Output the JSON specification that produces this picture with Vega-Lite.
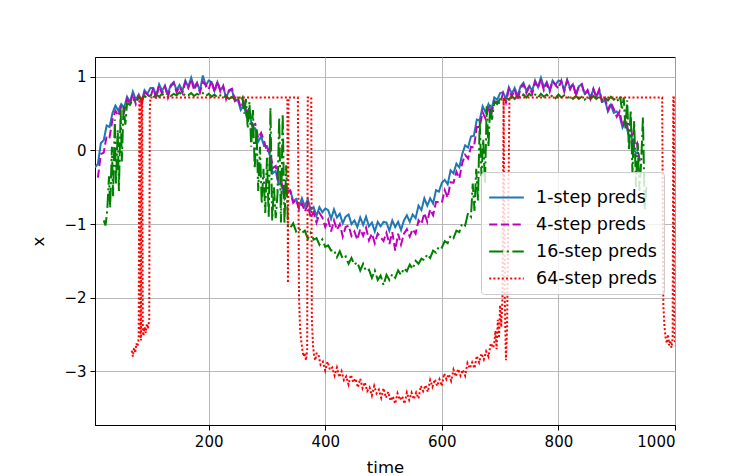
{
 "$schema": "https://vega.github.io/schema/vega-lite/v6.json",
 "width": 580, "height": 368,
 "autosize": {"type": "none"},
 "padding": {"left": 95, "top": 57, "right": 75, "bottom": 51},
 "background": "white",
 "config": {
  "font": "DejaVu Sans",
  "view": {"stroke": "black", "strokeWidth": 1},
  "axis": {"domainColor": "black", "domainWidth": 1, "tickColor": "black", "tickSize": 5, "tickWidth": 1,
   "labelFontSize": 15, "labelColor": "black", "labelFont": "DejaVu Sans",
   "titleFontSize": 16.5, "titleFontWeight": "normal", "titleColor": "black", "titleFont": "DejaVu Sans",
   "gridColor": "#b0b0b0", "gridWidth": 0.9, "grid": true}
 },
 "data": {"values": [
  {"t":5,"a":-0.23},
  {"t":10,"a":-0.18,"b":-0.37},{"t":15,"a":0.10,"b":-0.05},{"t":20,"a":0.14,"b":-0.03},{"t":25,"a":0.34,"b":0.20},
  {"t":30,"a":0.32,"b":0.18},{"t":35,"a":0.51,"b":0.42},{"t":40,"a":0.61,"b":0.54},{"t":45,"a":0.54,"b":0.47},
  {"t":50,"a":0.63,"b":0.59},{"t":55,"a":0.58,"b":0.52},{"t":60,"a":0.73,"b":0.70},{"t":65,"a":0.66,"b":0.63},
  {"t":70,"a":0.80,"b":0.77},{"t":75,"a":0.69,"b":0.63},{"t":80,"a":0.76,"b":0.74},{"t":85,"a":0.67,"b":0.63},
  {"t":90,"a":0.82,"b":0.79},{"t":95,"a":0.77,"b":0.76},{"t":100,"a":0.85,"b":0.72},{"t":105,"a":0.85,"b":0.85},
  {"t":110,"a":0.75,"b":0.71},{"t":115,"a":0.90,"b":0.88},{"t":120,"a":0.81,"b":0.77},{"t":125,"a":0.88,"b":0.87},
  {"t":130,"a":0.77,"b":0.72},{"t":135,"a":0.89,"b":0.87},{"t":140,"a":0.93,"b":0.92},{"t":145,"a":0.82,"b":0.79},
  {"t":150,"a":0.89,"b":0.87},{"t":155,"a":0.81,"b":0.78},{"t":160,"a":0.95,"b":0.93},{"t":165,"a":0.86,"b":0.85},
  {"t":170,"a":0.99,"b":0.97},{"t":175,"a":0.86,"b":0.82},{"t":180,"a":0.92,"b":0.91},{"t":185,"a":0.81,"b":0.79},
  {"t":190,"a":1.02,"b":0.93},{"t":195,"a":0.88,"b":0.89},{"t":200,"a":0.95,"b":0.83},{"t":205,"a":0.93,"b":0.95},
  {"t":210,"a":0.81,"b":0.79},{"t":215,"a":0.93,"b":0.94},{"t":220,"a":0.82,"b":0.80},{"t":225,"a":0.86,"b":0.88},
  {"t":230,"a":0.72,"b":0.70},{"t":235,"a":0.81,"b":0.82},{"t":240,"a":0.82,"b":0.84},{"t":245,"a":0.67,"b":0.68},
  {"t":250,"a":0.69,"b":0.72},{"t":255,"a":0.55,"b":0.58},{"t":260,"a":0.62,"b":0.67},{"t":265,"a":0.46,"b":0.52},
  {"t":270,"a":0.51,"b":0.57},{"t":275,"a":0.31,"b":0.34},{"t":280,"a":0.30,"b":0.36},{"t":285,"a":0.12,"b":0.17},
  {"t":290,"a":0.19,"b":0.24},{"t":295,"a":0.06,"b":0.13},{"t":300,"a":0.06,"b":-0.02},{"t":305,"a":-0.07,"b":0.03},
  {"t":310,"a":-0.31,"b":-0.24},{"t":315,"a":-0.28,"b":-0.21},{"t":320,"a":-0.46,"b":-0.44},{"t":325,"a":-0.46,"b":-0.43},
  {"t":330,"a":-0.63,"b":-0.65},{"t":335,"a":-0.55,"b":-0.56},{"t":340,"a":-0.54,"b":-0.55},{"t":345,"a":-0.69,"b":-0.71},
  {"t":350,"a":-0.66,"b":-0.67},{"t":355,"a":-0.76,"b":-0.80},{"t":360,"a":-0.65,"b":-0.72},{"t":365,"a":-0.76,"b":-0.83},
  {"t":370,"a":-0.66,"b":-0.73},{"t":375,"a":-0.81,"b":-0.91},{"t":380,"a":-0.77,"b":-0.84},{"t":385,"a":-0.89,"b":-0.98},
  {"t":390,"a":-0.77,"b":-0.85},{"t":395,"a":-0.84,"b":-0.91},{"t":400,"a":-0.79,"b":-1.04},{"t":405,"a":-0.81,"b":-0.94},
  {"t":410,"a":-0.93,"b":-1.10},{"t":415,"a":-0.80,"b":-0.95},{"t":420,"a":-0.91,"b":-1.08},{"t":425,"a":-0.86,"b":-1.00},
  {"t":430,"a":-0.99,"b":-1.17},{"t":435,"a":-0.90,"b":-1.04},{"t":440,"a":-0.87,"b":-1.02},{"t":445,"a":-1.00,"b":-1.16},
  {"t":450,"a":-0.95,"b":-1.10},{"t":455,"a":-1.04,"b":-1.21},{"t":460,"a":-0.91,"b":-1.07},{"t":465,"a":-1.01,"b":-1.16},
  {"t":470,"a":-0.90,"b":-1.05},{"t":475,"a":-1.03,"b":-1.22},{"t":480,"a":-0.98,"b":-1.13},{"t":485,"a":-1.10,"b":-1.26},
  {"t":490,"a":-0.97,"b":-1.13},{"t":495,"a":-1.03,"b":-1.18},{"t":500,"a":-0.97,"b":-1.23},{"t":505,"a":-0.98,"b":-1.12},
  {"t":510,"a":-1.09,"b":-1.27},{"t":515,"a":-0.95,"b":-1.11},{"t":520,"a":-1.04,"b":-1.36},{"t":525,"a":-0.97,"b":-1.13},
  {"t":530,"a":-1.08,"b":-1.28},{"t":535,"a":-0.95,"b":-1.13},{"t":540,"a":-0.88,"b":-1.07},{"t":545,"a":-0.97,"b":-1.17},
  {"t":550,"a":-0.87,"b":-1.07},{"t":555,"a":-0.92,"b":-1.13},{"t":560,"a":-0.75,"b":-0.95},{"t":565,"a":-0.81,"b":-1.00},
  {"t":570,"a":-0.65,"b":-0.85},{"t":575,"a":-0.75,"b":-0.97},{"t":580,"a":-0.65,"b":-0.80},{"t":585,"a":-0.72,"b":-0.88},
  {"t":590,"a":-0.54,"b":-0.70},{"t":595,"a":-0.56,"b":-0.70},{"t":600,"a":-0.44,"b":-0.71},{"t":605,"a":-0.40,"b":-0.54},
  {"t":610,"a":-0.46,"b":-0.64},{"t":615,"a":-0.27,"b":-0.43},{"t":620,"a":-0.31,"b":-0.44},{"t":625,"a":-0.18,"b":-0.29},
  {"t":630,"a":-0.23,"b":-0.38},{"t":635,"a":-0.05,"b":-0.17},{"t":640,"a":0.07,"b":-0.06},{"t":645,"a":0.04,"b":-0.11},
  {"t":650,"a":0.19,"b":0.05},{"t":655,"a":0.20,"b":0.04},{"t":660,"a":0.42,"b":0.32},{"t":665,"a":0.41,"b":0.32},
  {"t":670,"a":0.60,"b":0.52},{"t":675,"a":0.52,"b":0.43},{"t":680,"a":0.63,"b":0.57},{"t":685,"a":0.55,"b":0.50},
  {"t":690,"a":0.72,"b":0.67},{"t":695,"a":0.69,"b":0.66},{"t":700,"a":0.78,"b":0.64},{"t":705,"a":0.79,"b":0.78},
  {"t":710,"a":0.70,"b":0.65},{"t":715,"a":0.86,"b":0.83},{"t":720,"a":0.77,"b":0.73},{"t":725,"a":0.85,"b":0.83},
  {"t":730,"a":0.74,"b":0.69},{"t":735,"a":0.87,"b":0.84},{"t":740,"a":0.92,"b":0.90},{"t":745,"a":0.81,"b":0.78},
  {"t":750,"a":0.88,"b":0.86},{"t":755,"a":0.81,"b":0.77},{"t":760,"a":0.95,"b":0.93},{"t":765,"a":0.86,"b":0.85},
  {"t":770,"a":0.99,"b":0.97},{"t":775,"a":0.86,"b":0.82},{"t":780,"a":0.93,"b":0.91},{"t":785,"a":0.82,"b":0.80},
  {"t":790,"a":0.95,"b":0.94},{"t":795,"a":0.89,"b":0.89},{"t":800,"a":0.95,"b":0.84},{"t":805,"a":0.94,"b":0.95},
  {"t":810,"a":0.82,"b":0.80},{"t":815,"a":0.96,"b":0.95},{"t":820,"a":0.85,"b":0.83},{"t":825,"a":0.90,"b":0.91},
  {"t":830,"a":0.77,"b":0.74},{"t":835,"a":0.87,"b":0.87},{"t":840,"a":0.90,"b":0.90},{"t":845,"a":0.77,"b":0.76},
  {"t":850,"a":0.81,"b":0.82},{"t":855,"a":0.72,"b":0.70},{"t":860,"a":0.83,"b":0.84},{"t":865,"a":0.72,"b":0.73},
  {"t":870,"a":0.82,"b":0.83},{"t":875,"a":0.66,"b":0.65},{"t":880,"a":0.68,"b":0.71},{"t":885,"a":0.53,"b":0.55},
  {"t":890,"a":0.62,"b":0.65},{"t":895,"a":0.51,"b":0.56},{"t":900,"a":0.53,"b":0.46},{"t":905,"a":0.47,"b":0.53},
  {"t":910,"a":0.31,"b":0.33},{"t":915,"a":0.39,"b":0.44},{"t":920,"a":0.22,"b":0.26},{"t":925,"a":0.20,"b":0.28},
  {"t":930,"a":0.00,"b":0.04},{"t":935,"a":-0.05,"b":0.10},{"t":940,"b":-0.18},

  {"t":20,"c":-0.95},{"t":23,"c":-1.02},{"t":26,"c":-0.82},{"t":29,"c":-0.35},{"t":31,"c":-0.78},{"t":34,"c":0.05},
  {"t":36,"c":-0.62},{"t":39,"c":0.42},{"t":41,"c":-0.45},{"t":44,"c":0.28},{"t":46,"c":-0.55},{"t":49,"c":0.55},
  {"t":51,"c":-0.15},{"t":54,"c":0.6},{"t":57,"c":0.35},{"t":60,"c":0.64},{"t":65,"c":0.62},{"t":70,"c":0.7},
  {"t":75,"c":0.66},{"t":80,"c":0.72},{"t":85,"c":0.69},{"t":90,"c":0.74},{"t":95,"c":0.71},{"t":100,"c":0.75},
  {"t":105,"c":0.72},{"t":110,"c":0.76},{"t":115,"c":0.73},{"t":120,"c":0.77},{"t":125,"c":0.74},{"t":130,"c":0.78},
  {"t":135,"c":0.74},{"t":140,"c":0.77},{"t":145,"c":0.75},{"t":150,"c":0.79},{"t":155,"c":0.74},{"t":160,"c":0.77},
  {"t":165,"c":0.75},{"t":170,"c":0.78},{"t":175,"c":0.74},{"t":180,"c":0.77},{"t":185,"c":0.75},{"t":190,"c":0.78},
  {"t":195,"c":0.74},{"t":200,"c":0.77},{"t":205,"c":0.73},{"t":210,"c":0.76},{"t":215,"c":0.72},{"t":220,"c":0.75},
  {"t":225,"c":0.72},{"t":230,"c":0.74},{"t":235,"c":0.7},{"t":240,"c":0.73},{"t":245,"c":0.69},{"t":250,"c":0.72},
  {"t":255,"c":0.68},{"t":258,"c":0.72},{"t":261,"c":0.5},{"t":264,"c":0.7},{"t":267,"c":0.3},{"t":270,"c":0.66},
  {"t":273,"c":0.05},{"t":276,"c":0.55},{"t":279,"c":-0.25},{"t":282,"c":0.3},{"t":285,"c":-0.55},{"t":288,"c":0.05},
  {"t":291,"c":-0.72},{"t":294,"c":-0.25},{"t":297,"c":-0.85},{"t":300,"c":-0.1},{"t":303,"c":-0.9},{"t":306,"c":0.58},
  {"t":309,"c":-0.95},{"t":312,"c":-0.5},{"t":315,"c":-0.92},{"t":318,"c":-0.6},{"t":321,"c":0.45},{"t":324,"c":-0.98},
  {"t":327,"c":0.5},{"t":330,"c":-1.0},{"t":333,"c":-0.2},{"t":336,"c":-1.02},{"t":340,"c":-1.05},{"t":345,"c":-0.99},
  {"t":350,"c":-1.1},{"t":355,"c":-1.06},{"t":360,"c":-1.12},{"t":365,"c":-1.09},{"t":370,"c":-1.2},{"t":375,"c":-1.12},
  {"t":380,"c":-1.21},{"t":385,"c":-1.19},{"t":390,"c":-1.28},{"t":395,"c":-1.21},{"t":400,"c":-1.31},{"t":405,"c":-1.29},
  {"t":410,"c":-1.36},{"t":415,"c":-1.35},{"t":420,"c":-1.45},{"t":425,"c":-1.37},{"t":430,"c":-1.47},{"t":435,"c":-1.44},
  {"t":440,"c":-1.54},{"t":445,"c":-1.46},{"t":450,"c":-1.55},{"t":455,"c":-1.52},{"t":460,"c":-1.63},{"t":465,"c":-1.54},
  {"t":470,"c":-1.64},{"t":475,"c":-1.62},{"t":480,"c":-1.73},{"t":485,"c":-1.63},{"t":490,"c":-1.76},{"t":495,"c":-1.7},
  {"t":500,"c":-1.83},{"t":505,"c":-1.69},{"t":510,"c":-1.76},{"t":515,"c":-1.68},{"t":520,"c":-1.73},{"t":525,"c":-1.63},
  {"t":530,"c":-1.69},{"t":535,"c":-1.6},{"t":540,"c":-1.64},{"t":545,"c":-1.55},{"t":550,"c":-1.61},{"t":555,"c":-1.5},
  {"t":560,"c":-1.54},{"t":565,"c":-1.47},{"t":570,"c":-1.49},{"t":575,"c":-1.41},{"t":580,"c":-1.46},{"t":585,"c":-1.36},
  {"t":590,"c":-1.39},{"t":595,"c":-1.3},{"t":600,"c":-1.32},{"t":605,"c":-1.23},{"t":610,"c":-1.26},{"t":615,"c":-1.16},
  {"t":620,"c":-1.19},{"t":625,"c":-1.09},{"t":630,"c":-1.11},{"t":635,"c":-0.99},{"t":640,"c":-1.02},{"t":645,"c":-0.85},
  {"t":650,"c":-0.9},{"t":653,"c":-0.45},{"t":656,"c":-0.82},{"t":659,"c":-0.25},{"t":662,"c":-0.68},{"t":665,"c":0.4},
  {"t":668,"c":-0.35},{"t":671,"c":0.15},{"t":674,"c":-0.45},{"t":677,"c":0.6},{"t":680,"c":0.05},{"t":683,"c":0.62},
  {"t":686,"c":0.42},{"t":690,"c":0.66},{"t":695,"c":0.63},{"t":700,"c":0.7},{"t":705,"c":0.67},{"t":710,"c":0.72},
  {"t":715,"c":0.69},{"t":720,"c":0.74},{"t":725,"c":0.7},{"t":730,"c":0.75},{"t":735,"c":0.71},{"t":740,"c":0.76},
  {"t":745,"c":0.72},{"t":750,"c":0.77},{"t":755,"c":0.73},{"t":760,"c":0.76},{"t":765,"c":0.72},{"t":770,"c":0.77},
  {"t":775,"c":0.73},{"t":780,"c":0.76},{"t":785,"c":0.72},{"t":790,"c":0.75},{"t":795,"c":0.71},{"t":800,"c":0.76},
  {"t":805,"c":0.72},{"t":810,"c":0.75},{"t":815,"c":0.71},{"t":820,"c":0.74},{"t":825,"c":0.7},{"t":830,"c":0.74},
  {"t":835,"c":0.7},{"t":840,"c":0.73},{"t":845,"c":0.69},{"t":850,"c":0.73},{"t":855,"c":0.7},{"t":860,"c":0.74},
  {"t":865,"c":0.7},{"t":870,"c":0.73},{"t":875,"c":0.69},{"t":880,"c":0.72},{"t":885,"c":0.68},{"t":890,"c":0.73},
  {"t":895,"c":0.69},{"t":900,"c":0.72},{"t":903,"c":0.66},{"t":906,"c":0.73},{"t":909,"c":0.55},{"t":912,"c":0.72},
  {"t":915,"c":0.3},{"t":918,"c":0.68},{"t":921,"c":0.0},{"t":924,"c":0.55},{"t":927,"c":-0.3},{"t":930,"c":0.4},
  {"t":933,"c":-0.5},{"t":936,"c":0.1},{"t":939,"c":-0.55},{"t":942,"c":-0.15},{"t":945,"c":0.45},{"t":948,"c":-0.8},
  {"t":951,"c":-0.5},

  {"t":68,"d":-2.72},{"t":70,"d":-2.8},{"t":72,"d":-2.68},{"t":74,"d":-2.75},{"t":76,"d":-2.62},{"t":78,"d":-2.66},
  {"t":80,"d":-2.55},{"t":81,"d":0.72},{"t":82,"d":0.72},{"t":83,"d":-2.5},{"t":84,"d":-2.58},{"t":85,"d":0.72},
  {"t":86,"d":0.72},{"t":87,"d":-2.45},{"t":88,"d":-2.52},{"t":90,"d":-2.4},{"t":92,"d":-2.48},{"t":94,"d":-2.35},
  {"t":96,"d":-2.42},{"t":98,"d":-2.3},{"t":99,"d":0.55},{"t":100,"d":0.72},{"t":200,"d":0.72},{"t":335,"d":0.72},
  {"t":336,"d":-1.8},{"t":337,"d":0.72},{"t":353,"d":0.72},{"t":355,"d":-2.0},{"t":357,"d":-2.45},{"t":359,"d":-2.6},
  {"t":361,"d":-2.72},{"t":363,"d":-2.8},{"t":365,"d":-2.75},{"t":367,"d":-2.85},{"t":369,"d":-2.7},{"t":370,"d":0.72},
  {"t":376,"d":0.72},{"t":377,"d":-2.3},{"t":379,"d":-2.65},{"t":381,"d":-2.8},{"t":383,"d":-2.85},{"t":385,"d":-2.76},
  {"t":388,"d":-2.76},{"t":392,"d":-2.91},{"t":396,"d":-2.87},{"t":400,"d":-2.99},{"t":404,"d":-2.87},{"t":408,"d":-2.98},
  {"t":412,"d":-2.95},{"t":416,"d":-3.06},{"t":420,"d":-2.95},{"t":424,"d":-3.08},{"t":428,"d":-3.0},{"t":432,"d":-3.12},
  {"t":436,"d":-3.07},{"t":440,"d":-3.18},{"t":444,"d":-3.05},{"t":448,"d":-3.15},{"t":452,"d":-3.1},{"t":456,"d":-3.22},
  {"t":460,"d":-3.1},{"t":464,"d":-3.23},{"t":468,"d":-3.15},{"t":472,"d":-3.27},{"t":476,"d":-3.22},{"t":480,"d":-3.33},
  {"t":484,"d":-3.2},{"t":488,"d":-3.3},{"t":492,"d":-3.25},{"t":496,"d":-3.36},{"t":500,"d":-3.23},{"t":504,"d":-3.36},
  {"t":508,"d":-3.28},{"t":512,"d":-3.4},{"t":516,"d":-3.34},{"t":520,"d":-3.44},{"t":524,"d":-3.3},{"t":528,"d":-3.39},
  {"t":532,"d":-3.34},{"t":536,"d":-3.44},{"t":540,"d":-3.29},{"t":544,"d":-3.39},{"t":548,"d":-3.29},{"t":552,"d":-3.38},
  {"t":556,"d":-3.29},{"t":560,"d":-3.37},{"t":564,"d":-3.2},{"t":568,"d":-3.27},{"t":572,"d":-3.19},{"t":576,"d":-3.28},
  {"t":580,"d":-3.12},{"t":584,"d":-3.21},{"t":588,"d":-3.11},{"t":592,"d":-3.2},{"t":596,"d":-3.11},{"t":600,"d":-3.2},
  {"t":604,"d":-3.03},{"t":608,"d":-3.11},{"t":612,"d":-3.04},{"t":616,"d":-3.13},{"t":620,"d":-2.98},{"t":624,"d":-3.07},
  {"t":628,"d":-2.97},{"t":632,"d":-3.06},{"t":636,"d":-2.98},{"t":640,"d":-3.06},{"t":644,"d":-2.89},{"t":648,"d":-2.96},
  {"t":652,"d":-2.88},{"t":656,"d":-2.96},{"t":660,"d":-2.79},{"t":664,"d":-2.88},{"t":668,"d":-2.76},{"t":672,"d":-2.84},
  {"t":676,"d":-2.73},{"t":680,"d":-2.8},{"t":684,"d":-2.62},{"t":688,"d":-2.68},{"t":690,"d":-2.62},{"t":692,"d":-2.45},
  {"t":694,"d":-2.7},{"t":696,"d":-2.3},{"t":698,"d":-2.55},{"t":700,"d":-2.1},{"t":702,"d":-2.4},{"t":704,"d":-2.0},
  {"t":706,"d":0.72},{"t":708,"d":-2.05},{"t":710,"d":-2.85},{"t":712,"d":-2.4},{"t":716,"d":0.72},{"t":850,"d":0.72},
  {"t":978,"d":0.72},{"t":980,"d":-2.1},{"t":982,"d":-2.4},{"t":984,"d":-2.55},{"t":986,"d":-2.62},{"t":988,"d":-2.5},
  {"t":990,"d":-2.65},{"t":992,"d":-2.58},{"t":994,"d":-2.68},{"t":996,"d":-2.55},{"t":997,"d":0.72},{"t":998,"d":0.72},
  {"t":999,"d":-2.4},{"t":1000,"d":-2.62}
 ]},
 "transform": [
  {"fold": ["a", "b", "c", "d"], "as": ["s", "v"]},
  {"filter": "isValid(datum.v)"}
 ],
 "mark": {"type": "line", "strokeWidth": 2, "clip": true, "strokeCap": "butt"},
 "encoding": {
  "x": {"field": "t", "type": "quantitative",
   "scale": {"domain": [5, 1000], "nice": false, "zero": false},
   "axis": {"values": [200, 400, 600, 800, 1000], "format": "d", "title": "time", "labelPadding": 4, "titlePadding": 10}},
  "y": {"field": "v", "type": "quantitative",
   "scale": {"domain": [-3.73, 1.27], "nice": false, "zero": false},
   "axis": {"values": [-3, -2, -1, 0, 1], "format": "d", "title": "x", "labelExpr": "replace(datum.label, '-', '−')", "labelPadding": 4, "titlePadding": 17}},
  "color": {"field": "s", "type": "nominal",
   "scale": {"domain": ["a", "b", "c", "d"], "range": ["#1f77b4", "#bf00bf", "#008000", "#ff0000"]},
   "legend": {"title": null, "orient": "none", "legendX": 386, "legendY": 115,
    "labelExpr": "datum.value == 'a' ? '1-step preds' : datum.value == 'b' ? '4-step preds' : datum.value == 'c' ? '16-step preds' : '64-step preds'",
    "symbolType": "stroke", "symbolSize": 1200, "symbolStrokeWidth": 2,
    "labelFontSize": 17.5, "labelFont": "DejaVu Sans", "labelColor": "black", "labelOffset": 11, "labelLimit": 300,
    "rowPadding": -0.5, "padding": 7, "fillColor": "rgba(255,255,255,0.8)", "strokeColor": "#cccccc", "cornerRadius": 3}},
  "strokeDash": {"field": "s", "type": "nominal",
   "scale": {"domain": ["a", "b", "c", "d"], "range": [[1, 0], [8.2, 3.5], [14, 3.5, 2.2, 3.5], [2, 2.2]]},
   "legend": {"title": null, "orient": "none", "legendX": 386, "legendY": 115,
    "labelExpr": "datum.value == 'a' ? '1-step preds' : datum.value == 'b' ? '4-step preds' : datum.value == 'c' ? '16-step preds' : '64-step preds'",
    "symbolType": "stroke", "symbolSize": 1200, "symbolStrokeWidth": 2,
    "labelFontSize": 17.5, "labelFont": "DejaVu Sans", "labelColor": "black", "labelOffset": 11, "labelLimit": 300,
    "rowPadding": -0.5, "padding": 7, "fillColor": "rgba(255,255,255,0.8)", "strokeColor": "#cccccc", "cornerRadius": 3}}
 }
}
